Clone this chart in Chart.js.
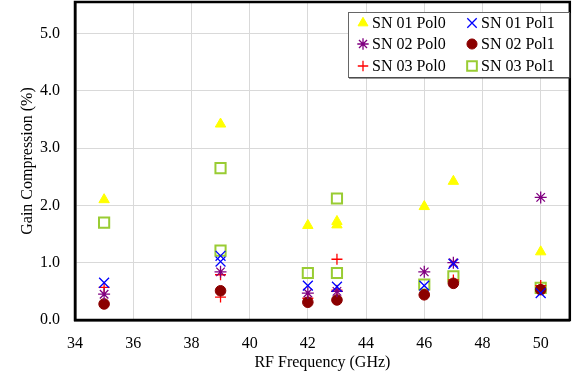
<!DOCTYPE html>
<html>
<head>
<meta charset="utf-8">
<script src="https://cdn.jsdelivr.net/npm/chart.js@4"></script>
<style>
  html, body { margin: 0; padding: 0; background: #fff; }
  #wrap { width: 579px; height: 379px; }
</style>
</head>
<body>
<div id="wrap"><canvas id="chart" width="579" height="379"></canvas></div>
<script>
// frequencies (GHz) and gain compression (%) per series
const sn01Pol0Freq = [35, 39, 42, 43, 43, 46, 47, 50];
const sn01Pol0Vals = [2.10, 3.42, 1.65, 1.72, 1.66, 1.98, 2.42, 1.19];
const sn01Pol1Freq = [35, 39, 39, 42, 43, 46, 47, 50];
const sn01Pol1Vals = [0.65, 1.12, 1.02, 0.60, 0.58, 0.60, 0.98, 0.47];
const sn02Pol0Freq = [35, 39, 42, 43, 46, 47, 50];
const sn02Pol0Vals = [0.45, 0.84, 0.47, 0.50, 0.84, 1.00, 2.14];
const sn02Pol1Freq = [35, 39, 42, 43, 46, 47, 50];
const sn02Pol1Vals = [0.28, 0.51, 0.31, 0.35, 0.44, 0.64, 0.53];
const sn03Pol0Freq = [35, 39, 39, 42, 43, 43, 46, 47, 50];
const sn03Pol0Vals = [0.57, 0.79, 0.40, 0.38, 1.06, 0.52, 0.44, 0.70, 0.60];
const sn03Pol1Freq = [35, 39, 39, 42, 43, 43, 46, 47, 50];
const sn03Pol1Vals = [1.70, 2.65, 1.21, 0.82, 2.12, 0.82, 0.62, 0.76, 0.56];

const xTicks = [34, 36, 38, 40, 42, 44, 46, 48, 50];
const yTicks = [0, 1, 2, 3, 4, 5];

const toPoints = (xs, ys) => xs.map((x, i) => ({ x: x, y: ys[i] }));

const FONT = "'Liberation Serif', 'Times New Roman', serif";

const series = [
  { label: 'SN 01 Pol0', data: toPoints(sn01Pol0Freq, sn01Pol0Vals), pointStyle: 'triangle', pointRadius: 6, backgroundColor: '#ffff00', borderColor: '#ffff00', borderWidth: 1 },
  { label: 'SN 01 Pol1', data: toPoints(sn01Pol1Freq, sn01Pol1Vals), pointStyle: 'crossRot', pointRadius: 7, backgroundColor: '#0000ff', borderColor: '#0000ff', borderWidth: 1.3 },
  { label: 'SN 02 Pol0', data: toPoints(sn02Pol0Freq, sn02Pol0Vals), pointStyle: 'star', pointRadius: 6, backgroundColor: '#800080', borderColor: '#800080', borderWidth: 1.3 },
  { label: 'SN 02 Pol1', data: toPoints(sn02Pol1Freq, sn02Pol1Vals), pointStyle: 'circle', pointRadius: 5.3, backgroundColor: '#8b0000', borderColor: '#8b0000', borderWidth: 1 },
  { label: 'SN 03 Pol0', data: toPoints(sn03Pol0Freq, sn03Pol0Vals), pointStyle: 'cross', pointRadius: 5.5, backgroundColor: '#ff0000', borderColor: '#ff0000', borderWidth: 1.3 },
  { label: 'SN 03 Pol1', data: toPoints(sn03Pol1Freq, sn03Pol1Vals), pointStyle: 'rect', pointRadius: 7.2, backgroundColor: 'rgba(0,0,0,0)', borderColor: '#99cc33', borderWidth: 2 }
];

// pull the plot area up to the top edge (Chart.js keeps half a tick label free above it)
const plotTopPlugin = {
  id: 'plotTop',
  afterLayout(chart) {
    const y = chart.scales.y;
    chart.chartArea.top = 2;
    chart.chartArea.height = chart.chartArea.bottom - 2;
    y.top = 2;
    y.height = y.bottom - 2;
    y.configure();
  }
};

// box around the plot area and the boxed legend in the top right
const framePlugin = {
  id: 'frame',
  afterDraw(chart) {
    const ctx = chart.ctx;
    const a = chart.chartArea;
    ctx.save();
    ctx.strokeStyle = '#000';
    ctx.lineWidth = 2.5;
    ctx.strokeRect(a.left, a.top, a.right - a.left, a.bottom - a.top);

    // legend
    const lx = 348, ly = 12, lw = 221, lh = 65;
    ctx.fillStyle = '#fff';
    ctx.fillRect(lx, ly, lw, lh);
    ctx.lineWidth = 1;
    ctx.strokeStyle = '#666';
    ctx.strokeRect(lx + 0.5, ly + 0.5, lw, lh);
    ctx.strokeStyle = '#333';
    ctx.beginPath();
    ctx.moveTo(lx + lw + 1, ly + 1);
    ctx.lineTo(lx + lw + 1, ly + lh + 1);
    ctx.lineTo(lx + 1, ly + lh + 1);
    ctx.stroke();

    const cols = [363, 472];
    const rows = [23, 44, 66];
    ctx.font = '16px ' + FONT;
    ctx.textBaseline = 'middle';
    ctx.textAlign = 'left';
    series.forEach((s, i) => {
      const cx = cols[i % 2];
      const cy = rows[Math.floor(i / 2)];
      ctx.fillStyle = s.backgroundColor;
      ctx.strokeStyle = s.borderColor;
      ctx.lineWidth = s.borderWidth;
      Chart.helpers.drawPoint(ctx, { pointStyle: s.pointStyle, radius: s.pointRadius * 0.95, borderWidth: s.borderWidth, rotation: 0 }, cx, cy);
      ctx.fillStyle = '#000';
      ctx.fillText(s.label, cx + 9, cy + 1);
    });
    ctx.restore();
  }
};

new Chart(document.getElementById('chart'), {
  type: 'scatter',
  data: { datasets: series },
  options: {
    responsive: false,
    animation: false,
    layout: { padding: { left: 0, right: 6, top: 2, bottom: 0 } },
    plugins: {
      legend: { display: false },
      tooltip: { enabled: false }
    },
    scales: {
      x: {
        type: 'linear',
        min: 34,
        max: 51,
        afterBuildTicks: (scale) => { scale.ticks = xTicks.map(v => ({ value: v })); },
        afterFit: (scale) => { scale.height = 59; scale.paddingLeft = 0; scale.paddingRight = 0; },
        ticks: { color: '#000', padding: 14, font: { family: FONT, size: 16 }, maxRotation: 0 },
        grid: { color: '#d9d9d9', drawTicks: false },
        border: { color: '#000', width: 2.5 },
        title: { display: true, text: 'RF Frequency (GHz)', color: '#000', font: { family: FONT, size: 16 }, padding: { top: 0, bottom: 7 } }
      },
      y: {
        type: 'linear',
        min: 0,
        max: 5.55,
        afterBuildTicks: (scale) => { scale.ticks = yTicks.map(v => ({ value: v })); },
        afterFit: (scale) => { scale.width = 75; },
        ticks: { color: '#000', padding: 15, font: { family: FONT, size: 16 }, callback: (v) => Number(v).toFixed(1) },
        grid: { color: '#d9d9d9', drawTicks: false },
        border: { color: '#000', width: 2.5 },
        title: { display: true, text: 'Gain Compression (%)', color: '#000', font: { family: FONT, size: 16 }, padding: { top: 18, bottom: 0 } }
      }
    }
  },
  plugins: [plotTopPlugin, framePlugin]
});
</script>
</body>
</html>
